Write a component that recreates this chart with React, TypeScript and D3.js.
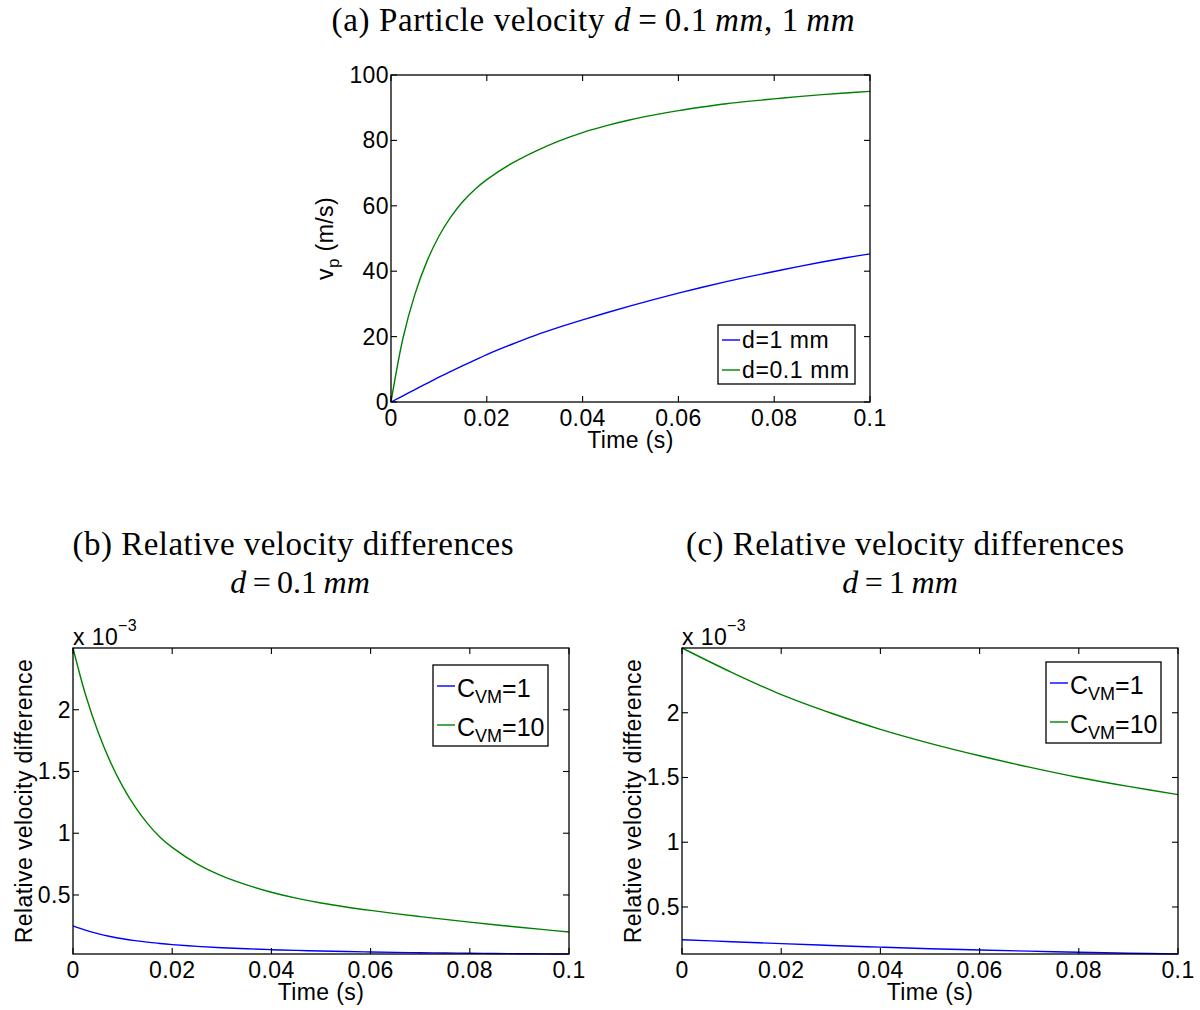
import React from 'react';
import * as d3 from 'd3';

// ---------- data ----------
const timeFine = [0, 0.0025, 0.005, 0.0075, 0.01, 0.0125, 0.015, 0.0175, 0.02, 0.025, 0.03, 0.035, 0.04, 0.045, 0.05, 0.055, 0.06, 0.065, 0.07, 0.075, 0.08, 0.085, 0.09, 0.095, 0.1];
const timeCoarse = [0, 0.01, 0.02, 0.03, 0.04, 0.05, 0.06, 0.07, 0.08, 0.09, 0.1];

// (a) particle velocity (m/s)
const vpD1mm = [0, 1.9, 3.8, 5.7, 7.6, 9.35, 11.1, 12.8, 14.5, 17.5, 20.3, 22.8, 25.1, 27.3, 29.4, 31.4, 33.3, 35.1, 36.8, 38.4, 39.9, 41.4, 42.8, 44.1, 45.3];
const vpD01mm = [0, 19.5, 33, 43, 50.7, 56.6, 61.3, 65.0, 68.0, 72.8, 76.6, 79.8, 82.4, 84.5, 86.3, 87.8, 89.1, 90.2, 91.2, 92.0, 92.7, 93.4, 94.0, 94.5, 95.0];

// (b) relative velocity difference, d = 0.1 mm (x 10^-3)
const relB_C1 = [0.25, 0.215, 0.187, 0.164, 0.145, 0.13, 0.118, 0.107, 0.098, 0.084, 0.073, 0.064, 0.057, 0.051, 0.046, 0.042, 0.038, 0.035, 0.032, 0.03, 0.028, 0.026, 0.0245, 0.023, 0.022];
const relB_C10 = [2.5, 2.125, 1.825, 1.58, 1.38, 1.215, 1.08, 0.97, 0.885, 0.752, 0.655, 0.582, 0.522, 0.474, 0.435, 0.403, 0.375, 0.349, 0.325, 0.302, 0.28, 0.259, 0.239, 0.219, 0.2];

// (c) relative velocity difference, d = 1 mm (x 10^-3)
const relC_C1 = [0.247, 0.232, 0.217, 0.203, 0.19, 0.178, 0.168, 0.159, 0.15, 0.143, 0.137];
const relC_C10 = [2.5, 2.312, 2.14, 1.998, 1.872, 1.764, 1.668, 1.58, 1.5, 1.431, 1.368];

const xTicks = [0, 0.02, 0.04, 0.06, 0.08, 0.1];
const xTickLabels = ['0', '0.02', '0.04', '0.06', '0.08', '0.1'];
const yTicksA = [0, 20, 40, 60, 80, 100];
const yTickLabelsA = ['0', '20', '40', '60', '80', '100'];
const yTicksRel = [0.5, 1, 1.5, 2];
const yTickLabelsRel = ['0.5', '1', '1.5', '2'];

const BLUE = '#0000ff';
const GREEN = '#008000';
const SANS = '"Liberation Sans", Arial, Helvetica, sans-serif';
const SERIF = '"Liberation Serif", "Times New Roman", serif';
const TS = '\u2009';

type Box = { L: number; R: number; T: number; B: number };

function Axes({ box, x, y, yTicks, yLabels }: { box: Box; x: any; y: any; yTicks: number[]; yLabels: string[] }) {
  const { L, R, T, B } = box;
  const tl = 6;
  return (
    <g>
      <rect x={L} y={T} width={R - L} height={B - T} fill="none" stroke="#000" strokeWidth={1.3} />
      {xTicks.map((t, i) => (
        <g key={'x' + i}>
          <line x1={x(t)} x2={x(t)} y1={B} y2={B - tl} stroke="#000" strokeWidth={1.1} />
          <line x1={x(t)} x2={x(t)} y1={T} y2={T + tl} stroke="#000" strokeWidth={1.1} />
          <text x={x(t)} y={B + 24} textAnchor="middle" fontFamily={SANS} fontSize={23} letterSpacing={0.4}>{xTickLabels[i]}</text>
        </g>
      ))}
      {yTicks.map((v, i) => (
        <g key={'y' + i}>
          <line x1={L} x2={L + tl} y1={y(v)} y2={y(v)} stroke="#000" strokeWidth={1.1} />
          <line x1={R} x2={R - tl} y1={y(v)} y2={y(v)} stroke="#000" strokeWidth={1.1} />
          <text x={L - 2} y={y(v) + 8} textAnchor="end" fontFamily={SANS} fontSize={23} letterSpacing={0.4}>{yLabels[i]}</text>
        </g>
      ))}
      <text x={(L + R) / 2} y={B + 46} textAnchor="middle" fontFamily={SANS} fontSize={23} letterSpacing={0.4}>Time (s)</text>
    </g>
  );
}

function makeLine(x: any, y: any) {
  return d3.line<[number, number]>().x(d => x(d[0])).y(d => y(d[1])).curve(d3.curveCatmullRom.alpha(0.5));
}

function PanelA() {
  const box: Box = { L: 391, R: 870, T: 75, B: 402 };
  const x = d3.scaleLinear().domain([0, 0.1]).range([box.L, box.R]);
  const y = d3.scaleLinear().domain([0, 100]).range([box.B, box.T]);
  const line = makeLine(x, y);
  const s1 = timeFine.map((t, i) => [t, vpD1mm[i]] as [number, number]);
  const s2 = timeFine.map((t, i) => [t, vpD01mm[i]] as [number, number]);
  return (
    <g>
      <text x={593} y={31} textAnchor="middle" fontFamily={SERIF} fontSize={33} textLength={523} lengthAdjust="spacing">
        (a) Particle velocity <tspan fontStyle="italic">d</tspan>{TS}={TS}0.1{TS}<tspan fontStyle="italic">mm</tspan>, 1{TS}<tspan fontStyle="italic">mm</tspan>
      </text>
      <path d={line(s1) || ''} fill="none" stroke={BLUE} strokeWidth={1.4} />
      <path d={line(s2) || ''} fill="none" stroke={GREEN} strokeWidth={1.4} />
      <Axes box={box} x={x} y={y} yTicks={yTicksA} yLabels={yTickLabelsA} />
      <text transform={`translate(333,${(box.T + box.B) / 2}) rotate(-90)`} textAnchor="middle" fontFamily={SANS} fontSize={23} letterSpacing={0.4}>
        v<tspan dy={6} fontSize={17}>p</tspan><tspan dy={-6}> (m/s)</tspan>
      </text>
      <rect x={718} y={325} width={137} height={59} fill="#fff" stroke="#000" strokeWidth={1.3} />
      <line x1={722} x2={740} y1={340} y2={340} stroke={BLUE} strokeWidth={1.4} />
      <text x={742} y={348} fontFamily={SANS} fontSize={23} letterSpacing={0.6}>d=1 mm</text>
      <line x1={722} x2={740} y1={370} y2={370} stroke={GREEN} strokeWidth={1.4} />
      <text x={742} y={378} fontFamily={SANS} fontSize={23} letterSpacing={0.6}>d=0.1 mm</text>
    </g>
  );
}

function RelPanel({ box, c1, c10, times, title, line2, t1x, t1w, t2x, ylx, lg }: any) {
  const allVals = [...c1, ...c10];
  const x = d3.scaleLinear().domain([0, 0.1]).range([box.L, box.R]);
  const y = d3.scaleLinear().domain(d3.extent(allVals) as [number, number]).range([box.B, box.T]);
  const line = makeLine(x, y);
  const s1 = times.map((t: number, i: number) => [t, c1[i]] as [number, number]);
  const s2 = times.map((t: number, i: number) => [t, c10[i]] as [number, number]);
  return (
    <g>
      <text x={t1x} y={555} textAnchor="middle" fontFamily={SERIF} fontSize={33} textLength={t1w} lengthAdjust="spacing">{title}</text>
      <text x={t2x} y={593} textAnchor="middle" fontFamily={SERIF} fontSize={32}>
        <tspan fontStyle="italic">d</tspan>{TS}={TS}{line2}{TS}<tspan fontStyle="italic">mm</tspan>
      </text>
      <path d={line(s1) || ''} fill="none" stroke={BLUE} strokeWidth={1.4} />
      <path d={line(s2) || ''} fill="none" stroke={GREEN} strokeWidth={1.4} />
      <Axes box={box} x={x} y={y} yTicks={yTicksRel} yLabels={yTickLabelsRel} />
      <text x={box.L} y={box.T - 3} fontFamily={SANS} fontSize={23} letterSpacing={0.4}>
        x 10<tspan dy={-14} fontSize={16}>−3</tspan>
      </text>
      <text transform={`translate(${ylx},${(box.T + box.B) / 2}) rotate(-90)`} textAnchor="middle" fontFamily={SANS} fontSize={23} letterSpacing={0.4}>
        Relative velocity difference
      </text>
      <rect x={lg.x} y={lg.y} width={115} height={81} fill="#fff" stroke="#000" strokeWidth={1.3} />
      <line x1={lg.x + 4} x2={lg.x + 22} y1={lg.y + 21} y2={lg.y + 21} stroke={BLUE} strokeWidth={1.4} />
      <text x={lg.x + 24} y={lg.y + 32} fontFamily={SANS} fontSize={25}>
        C<tspan dy={6} fontSize={18}>VM</tspan><tspan dy={-6}>=1</tspan>
      </text>
      <line x1={lg.x + 4} x2={lg.x + 22} y1={lg.y + 60} y2={lg.y + 60} stroke={GREEN} strokeWidth={1.4} />
      <text x={lg.x + 24} y={lg.y + 71} fontFamily={SANS} fontSize={25}>
        C<tspan dy={6} fontSize={18}>VM</tspan><tspan dy={-6}>=10</tspan>
      </text>
    </g>
  );
}

export default function App() {
  return (
    <svg width={1200} height={1010} viewBox="0 0 1200 1010" style={{ position: 'absolute', left: 0, top: 0, background: '#fff' }}>
      <rect x={0} y={0} width={1200} height={1010} fill="#fff" />
      <PanelA />
      <RelPanel box={{ L: 73, R: 569, T: 648, B: 954 }} c1={relB_C1} c10={relB_C10} times={timeFine}
        title="(b) Relative velocity differences" line2="0.1" t1x={293} t1w={441} t2x={300} ylx={32}
        lg={{ x: 433, y: 665 }} />
      <RelPanel box={{ L: 682, R: 1178, T: 648, B: 954 }} c1={relC_C1} c10={relC_C10} times={timeCoarse}
        title="(c) Relative velocity differences" line2="1" t1x={905} t1w={438} t2x={900} ylx={641}
        lg={{ x: 1046, y: 662 }} />
    </svg>
  );
}
